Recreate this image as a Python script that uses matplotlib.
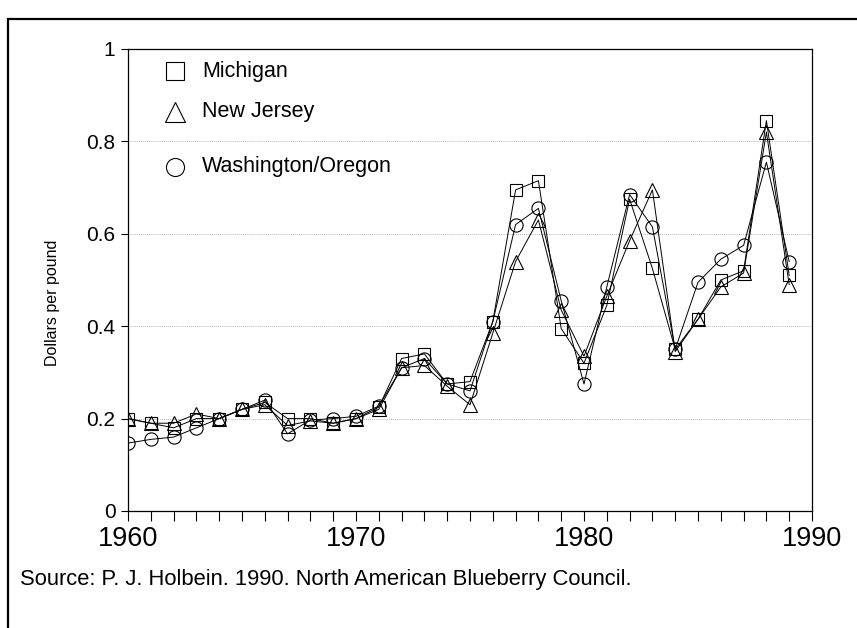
import matplotlib
matplotlib.use("Agg")
from matplotlib import pyplot as plt
from matplotlib.patches import Rectangle
from matplotlib.ticker import MultipleLocator, FixedLocator, FuncFormatter
import numpy as np

years = np.arange(1960, 1990)

michigan = [0.20, 0.19, 0.18, 0.20, 0.20, 0.22, 0.235, 0.20, 0.20, 0.19,
            0.20, 0.225, 0.33, 0.34, 0.275, 0.28, 0.41, 0.695, 0.715, 0.395,
            0.32, 0.445, 0.675, 0.525, 0.35, 0.415, 0.50, 0.52, 0.845, 0.51]
new_jersey = [0.20, 0.19, 0.19, 0.21, 0.20, 0.22, 0.23, 0.185, 0.195, 0.19,
              0.20, 0.22, 0.31, 0.315, 0.27, 0.23, 0.385, 0.54, 0.63, 0.435,
              0.335, 0.465, 0.585, 0.695, 0.345, 0.415, 0.485, 0.515, 0.82, 0.49]
wash_oregon = [0.147, 0.155, 0.16, 0.18, 0.20, 0.22, 0.24, 0.167, 0.197, 0.20,
               0.205, 0.227, 0.31, 0.33, 0.275, 0.26, 0.41, 0.62, 0.655, 0.455,
               0.275, 0.485, 0.685, 0.615, 0.35, 0.495, 0.545, 0.575, 0.755, 0.54]

labels = ['Michigan', 'New Jersey', 'Washington/Oregon']
series = [michigan, new_jersey, wash_oregon]

narrow = ['Liberation Sans Narrow', 'Liberation Sans', 'DejaVu Sans']
plain = ['Liberation Sans', 'DejaVu Sans']

fig = plt.figure(figsize=(8.57, 6.28), dpi=100)
ax = fig.add_axes([128/857, 1-511/628, 684/857, 462/628])

markers = ['s', '^', 'o']
msizes = [8, 9.5, 9.5]
for vals, m, ms in zip(series, markers, msizes):
    ax.plot(years, vals, color='black', lw=0.7, marker=m, markersize=ms,
            markerfacecolor='none', markeredgecolor='black', markeredgewidth=0.8)

# legend drawn by hand, rows are unevenly spaced in the original
leg_y = [0.952, 0.864, 0.745]
leg_ms = [13, 15, 13]
for lab, m, ms, yy in zip(labels, markers, leg_ms, leg_y):
    ax.plot([0.0687], [yy], transform=ax.transAxes, marker=m, markersize=ms,
            markerfacecolor='none', markeredgecolor='black', markeredgewidth=0.8,
            linestyle='none', clip_on=False)
    ax.text(0.108, yy, lab, transform=ax.transAxes, ha='left', va='center',
            fontsize=15.5, family=narrow)

ax.set_xlim(1960, 1990)
ax.set_ylim(0, 1)
ax.xaxis.set_major_locator(MultipleLocator(10))
ax.xaxis.set_minor_locator(MultipleLocator(1))
ax.yaxis.set_major_locator(FixedLocator([0, 0.2, 0.4, 0.6, 0.8, 1.0]))
ax.yaxis.set_major_formatter(FuncFormatter(lambda v, p: ('%g' % round(v, 2))))

ax.tick_params(axis='x', which='both', direction='out', length=7, width=0.8,
               labelsize=19.5, pad=4)
ax.tick_params(axis='y', which='major', direction='out', length=5, width=0.8,
               labelsize=15, pad=4)
for t in ax.get_xticklabels() + ax.get_yticklabels():
    t.set_family(plain)

ax.grid(axis='y', color='#9a9a9a', lw=0.6, linestyle=(0, (1, 1.5)))
ax.set_axisbelow(True)
for s in ['top', 'right', 'left', 'bottom']:
    ax.spines[s].set_linewidth(0.9)
    ax.spines[s].set_color('black')

ax.set_ylabel('Dollars per pound', fontsize=11.5, family=narrow)
ax.yaxis.set_label_coords(-0.10, 0.45)

fig.text(20/857, 1-580/628, 'Source: P. J. Holbein. 1990. North American Blueberry Council.',
         ha='left', va='center', fontsize=15.8, family=narrow)

# outer frame, runs off the right and bottom edges like the scan
fig.patches.append(Rectangle((8/857, -0.2), 1.2, 1.2 - 19/628, transform=fig.transFigure,
                             fill=False, edgecolor='black', lw=1.6))

fig.savefig('out.png', dpi=100)
